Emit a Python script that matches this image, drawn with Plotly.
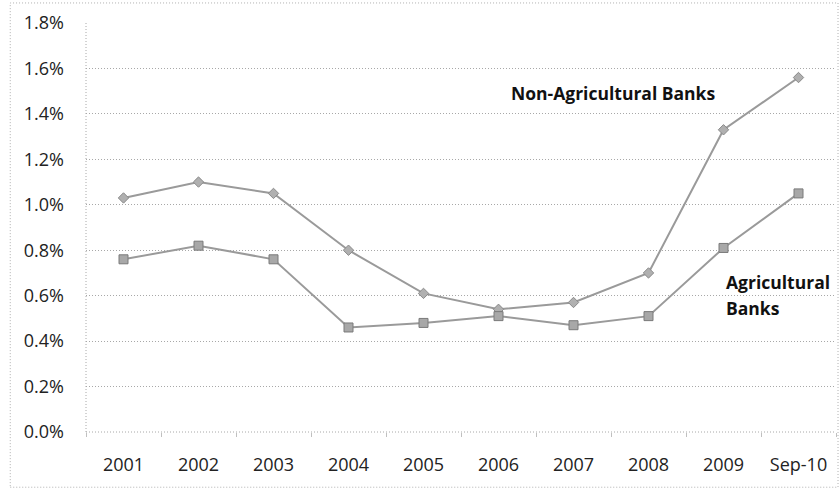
import plotly.graph_objects as go

categories = ["2001", "2002", "2003", "2004", "2005", "2006", "2007", "2008", "2009", "Sep-10"]
non_ag = [1.03, 1.10, 1.05, 0.80, 0.61, 0.54, 0.57, 0.70, 1.33, 1.56]
ag = [0.76, 0.82, 0.76, 0.46, 0.48, 0.51, 0.47, 0.51, 0.81, 1.05]
y_ticks = [0.0, 0.2, 0.4, 0.6, 0.8, 1.0, 1.2, 1.4, 1.6, 1.8]

line_col = "#9a9a9a"
grid_col = "#a8a8a8"
font_fam = "Open Sans, Liberation Sans, sans-serif"

fig = go.Figure()
fig.add_trace(go.Scatter(
    x=categories, y=non_ag, mode="lines+markers", name="Non-Agricultural Banks",
    line=dict(color=line_col, width=2),
    marker=dict(symbol="diamond", size=8, color="#b0b0b0", line=dict(color="#8a8a8a", width=1)),
))
fig.add_trace(go.Scatter(
    x=categories, y=ag, mode="lines+markers", name="Agricultural Banks",
    line=dict(color=line_col, width=2),
    marker=dict(symbol="square", size=9, color="#a8a8a8", line=dict(color="#7a7a7a", width=1)),
))

fig.add_annotation(x=6.53, y=1.49, xref="x", yref="y", text="<b>Non-Agricultural Banks</b>",
                   showarrow=False, xanchor="center", yanchor="middle",
                   font=dict(family=font_fam, size=17.5, color="#111111"))
fig.add_annotation(x=8.0, y=0.658, xref="x", yref="y", text="<b>Agricultural</b>",
                   showarrow=False, xanchor="left", yanchor="middle", align="left",
                   font=dict(family=font_fam, size=17.5, color="#111111"))
fig.add_annotation(x=8.0, y=0.545, xref="x", yref="y", text="<b>Banks</b>",
                   showarrow=False, xanchor="left", yanchor="middle", align="left",
                   font=dict(family=font_fam, size=17.5, color="#111111"))

# outer dotted border
fig.add_shape(type="rect", xref="paper", yref="paper", x0=-0.101, x1=1.0027, y0=-0.135, y1=1.049,
              line=dict(color="#b0b0b0", width=1, dash="1px,2px"))
# dotted axis lines
fig.add_shape(type="line", xref="paper", yref="paper", x0=0, x1=1, y0=0, y1=0,
              line=dict(color=grid_col, width=1, dash="1px,2px"))
fig.add_shape(type="line", xref="paper", yref="paper", x0=0, x1=0, y0=0, y1=1,
              line=dict(color=grid_col, width=1, dash="1px,2px"))

fig.update_layout(
    width=840, height=489,
    margin=dict(l=86, r=4, t=23, b=57),
    paper_bgcolor="white", plot_bgcolor="white",
    showlegend=False,
    font=dict(family=font_fam, size=18, color="#222222"),
    xaxis=dict(
        type="category", range=[-0.5, 9.5], showgrid=False,
        showline=False, ticks="outside", tickson="boundaries", ticklen=4,
        tickcolor="#c0c0c0", tickwidth=1,
        tickfont=dict(size=18), automargin=False,
        ticklabelstandoff=20,
    ),
    yaxis=dict(
        range=[0, 1.8], tickvals=y_ticks,
        ticktext=[f"{v:.1f}%" for v in y_ticks],
        showgrid=True, gridcolor=grid_col, griddash="1px,2px", gridwidth=1,
        showline=False, zeroline=False, ticks="", tickfont=dict(size=18),
        ticklabelstandoff=21, automargin=False,
    ),
)

fig.write_html("out.html", config={"displayModeBar": False},
               post_script="document.body.style.margin='0px';document.body.style.overflow='hidden';")
